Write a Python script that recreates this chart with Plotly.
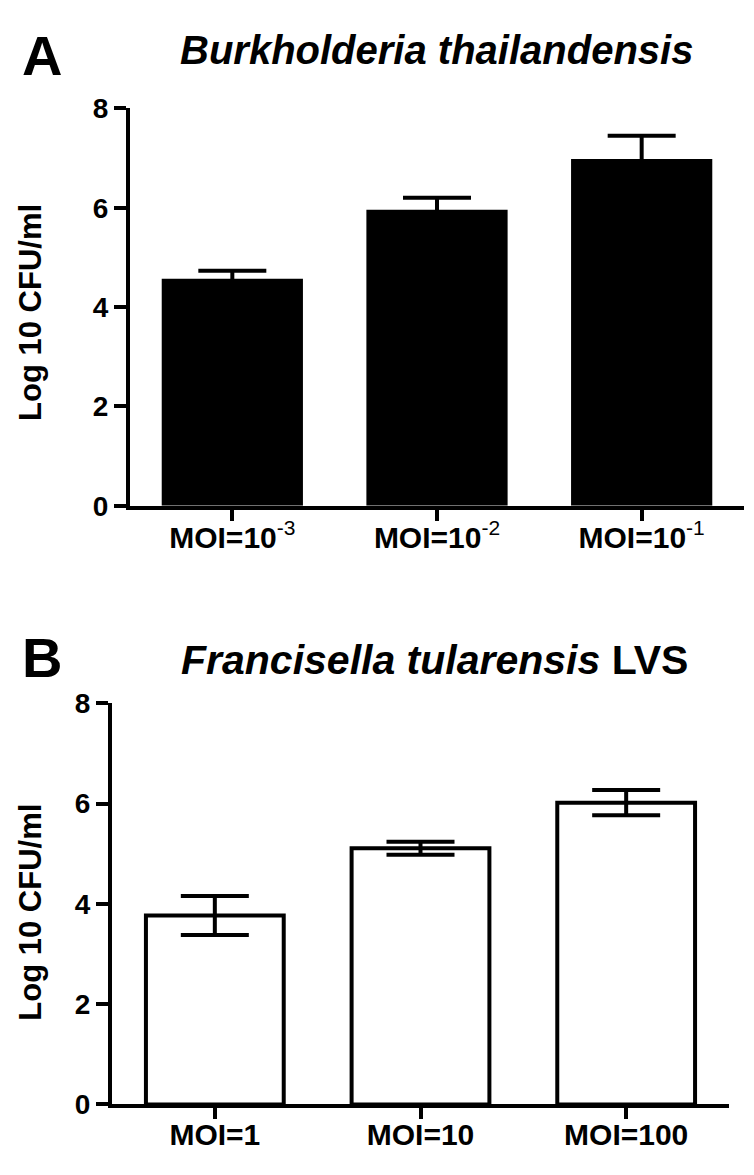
import plotly.graph_objects as go

# ---- data ----
top_categories = ["MOI=10^-3", "MOI=10^-2", "MOI=10^-1"]
top_ticktext = ["MOI=10<sup><span style='font-weight:normal'>-3</span></sup>",
                "MOI=10<sup><span style='font-weight:normal'>-2</span></sup>",
                "MOI=10<sup><span style='font-weight:normal'>-1</span></sup>"]
top_values = [4.57, 5.96, 6.98]
top_errors = [0.16, 0.24, 0.47]

bottom_categories = ["MOI=1", "MOI=10", "MOI=100"]
bottom_values = [3.77, 5.11, 6.02]
bottom_errors = [0.39, 0.13, 0.25]

y_ticks = [0, 2, 4, 6, 8]

W, H = 754, 1175
FONT = "Liberation Sans, Arial, Helvetica, sans-serif"

def px_x(p):
    return p / W

def px_y(p):
    return 1 - p / H

fig = go.Figure()

fig.add_trace(go.Bar(
    x=[0, 1, 2], y=top_values, width=0.69,
    marker=dict(color="black", line=dict(color="black", width=0)),
    error_y=dict(type="data", array=top_errors, visible=True,
                 color="black", thickness=4, width=34),
    xaxis="x", yaxis="y", showlegend=False,
))

fig.add_trace(go.Bar(
    x=[0, 1, 2], y=bottom_values, width=0.67,
    marker=dict(color="white", line=dict(color="black", width=4)),
    error_y=dict(type="data", array=bottom_errors, visible=True,
                 color="black", thickness=4, width=34),
    xaxis="x2", yaxis="y2", showlegend=False,
))

axis_common = dict(showgrid=False, zeroline=False, showline=True,
                   linecolor="black", linewidth=4, ticks="outside",
                   tickcolor="black", tickwidth=4)

fig.update_layout(
    width=W, height=H,
    margin=dict(l=0, r=0, t=0, b=0),
    paper_bgcolor="white", plot_bgcolor="white",
    font=dict(family=FONT, color="black"),
    xaxis=dict(domain=[px_x(130), px_x(744)], anchor="y", range=[-0.5, 2.5],
               tickvals=[0, 1, 2], ticktext=top_ticktext, ticklen=11,
               ticklabelstandoff=-9,
               tickfont=dict(size=30, weight="bold", family=FONT), **axis_common),
    yaxis=dict(domain=[px_y(504), px_y(96)], anchor="x", range=[0, 8],
               tickvals=y_ticks, ticklen=12,
               tickfont=dict(size=28, weight="bold", family=FONT), **axis_common),
    xaxis2=dict(domain=[px_x(112), px_x(729)], anchor="y2", range=[-0.5, 2.5],
                tickvals=[0, 1, 2], ticktext=bottom_categories, ticklen=11,
                ticklabelstandoff=-10,
                tickfont=dict(size=30, weight="bold", family=FONT), **axis_common),
    yaxis2=dict(domain=[px_y(1119), px_y(707)], anchor="x2", range=[0, 8],
                tickvals=y_ticks, ticklen=12,
                tickfont=dict(size=28, weight="bold", family=FONT), **axis_common),
)

ann = []
ann.append(dict(text="<b>A</b>", x=px_x(42), y=px_y(42), xref="paper", yref="paper",
                showarrow=False, font=dict(size=56, family=FONT),
                xanchor="center", yanchor="middle"))
ann.append(dict(text="<b>B</b>", x=px_x(42), y=px_y(660), xref="paper", yref="paper",
                showarrow=False, font=dict(size=56, family=FONT),
                xanchor="center", yanchor="middle"))
ann.append(dict(text="<b><i>Burkholderia thailandensis</i></b>", x=px_x(436), y=px_y(36),
                xref="paper", yref="paper", showarrow=False,
                font=dict(size=40, family=FONT), xanchor="center", yanchor="middle"))
ann.append(dict(text="<b><i>Francisella tularensis</i> LVS</b>", x=px_x(434), y=px_y(662),
                xref="paper", yref="paper", showarrow=False,
                font=dict(size=41, family=FONT), xanchor="center", yanchor="middle"))
ann.append(dict(text="<b>Log 10 CFU/ml</b>", x=px_x(31), y=px_y(306), xref="paper", yref="paper",
                showarrow=False, textangle=-90, font=dict(size=31, family=FONT),
                xanchor="center", yanchor="middle"))
ann.append(dict(text="<b>Log 10 CFU/ml</b>", x=px_x(31), y=px_y(922), xref="paper", yref="paper",
                showarrow=False, textangle=-90, font=dict(size=31, family=FONT),
                xanchor="center", yanchor="middle"))
fig.update_layout(annotations=ann)

fig.write_html("out.html", config={"displayModeBar": False},
               post_script="document.body.style.margin='0';")
